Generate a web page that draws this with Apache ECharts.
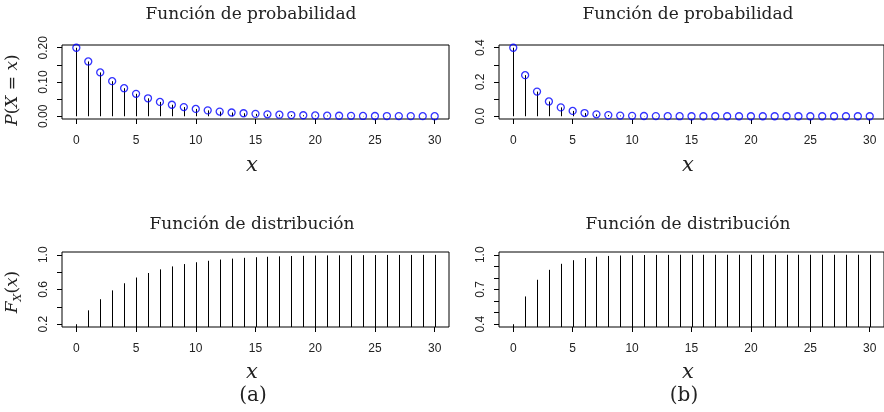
<!DOCTYPE html>
<html>
<head>
<meta charset="utf-8">
<script src="https://cdn.jsdelivr.net/npm/echarts@6/dist/echarts.min.js"></script>
<style>
  html, body { margin: 0; padding: 0; background: #fff; }
  #main { width: 884px; height: 412px; }
</style>
</head>
<body>
<div id="main"></div>
<script>
// valores de x (0..30)
var xVals = [0,1,2,3,4,5,6,7,8,9,10,11,12,13,14,15,16,17,18,19,20,21,22,23,24,25,26,27,28,29,30];

// (a) funcion de probabilidad y distribucion
var probA = [0.2000,0.1600,0.1280,0.1024,0.0819,0.0655,0.0524,0.0419,0.0336,0.0268,
             0.0215,0.0172,0.0137,0.0110,0.0088,0.0070,0.0056,0.0045,0.0036,0.0029,
             0.0023,0.0018,0.0015,0.0012,0.0009,0.0008,0.0006,0.0005,0.0004,0.0003,0.0002];
var distA = [0.200,0.360,0.488,0.590,0.672,0.738,0.790,0.832,0.866,0.893,
             0.914,0.931,0.945,0.956,0.965,0.972,0.977,0.982,0.986,0.988,
             0.991,0.993,0.994,0.995,0.996,0.997,0.998,0.998,0.998,0.999,0.999];

// (b)
var probB = [0.4000,0.2400,0.1440,0.0864,0.0518,0.0311,0.0187,0.0112,0.0067,0.0040,
             0.0024,0.0015,0.0009,0.0005,0.0003,0.0002,0.0001,0.0001,0.0000,0.0000,
             0.0000,0.0000,0.0000,0.0000,0.0000,0.0000,0.0000,0.0000,0.0000,0.0000,0.0000];
var distB = [0.400,0.640,0.784,0.870,0.922,0.953,0.972,0.983,0.990,0.994,
             0.996,0.998,0.999,0.999,1.000,1.000,1.000,1.000,1.000,1.000,
             1.000,1.000,1.000,1.000,1.000,1.000,1.000,1.000,1.000,1.000,1.000];

// ticks
var xTicks = [0,5,10,15,20,25,30];
var yTicksPA = [0,0.05,0.10,0.15,0.20];
var yLabelsPA = [0,0.10,0.20];
var yTicksPB = [0,0.1,0.2,0.3,0.4];
var yLabelsPB = [0,0.2,0.4];
var yTicksFA = [0.2,0.4,0.6,0.8,1.0];
var yLabelsFA = [0.2,0.6,1.0];
var yTicksFB = [0.4,0.5,0.6,0.7,0.8,0.9,1.0];
var yLabelsFB = [0.4,0.7,1.0];

var serif = '"DejaVu Serif", serif';
var sans = '"Liberation Sans", Arial, sans-serif';

function pairs(vals) {
    return xVals.map(function (x, i) { return [x, vals[i]]; });
}

// grids: [left, top, width, height]
var grids = [
    {left: 62,  top: 45,  width: 387, height: 74},
    {left: 499, top: 45,  width: 387, height: 74},
    {left: 62,  top: 252, width: 387, height: 75},
    {left: 499, top: 252, width: 387, height: 75}
];

function makeX(idx) {
    return {
        type: 'value', gridIndex: idx, min: -1.2, max: 31.2, position: 'bottom',
        axisLine: {show: false, onZero: false},
        axisTick: {show: true, length: 5, lineStyle: {color: '#000'}, customValues: xTicks},
        axisLabel: {show: true, customValues: xTicks, margin: 16, fontFamily: sans, fontSize: 12, color: '#222'},
        splitLine: {show: false}
    };
}

function makeY(idx, min, max, ticks, labels, dec) {
    return {
        type: 'value', gridIndex: idx, min: min, max: max, position: 'left',
        axisLine: {show: false, onZero: false},
        axisTick: {show: true, length: 5, lineStyle: {color: '#000'}, customValues: ticks},
        axisLabel: {
            show: true, customValues: labels, rotate: 90, margin: 12,
            fontFamily: sans, fontSize: 12, color: '#222',
            formatter: function (v) { return Number(v).toFixed(dec); }
        },
        splitLine: {show: false}
    };
}

function stems(idx, vals, base) {
    return {
        type: 'custom', xAxisIndex: idx, yAxisIndex: idx, clip: true,
        data: pairs(vals),
        renderItem: function (params, api) {
            var p0 = api.coord([api.value(0), base]);
            var p1 = api.coord([api.value(0), api.value(1)]);
            var xx = Math.round(p0[0]) + 0.5;
            return {
                type: 'line',
                shape: {x1: xx, y1: p0[1], x2: xx, y2: p1[1]},
                style: {stroke: '#000', lineWidth: 1}
            };
        },
        silent: true
    };
}

function points(idx, vals) {
    return {
        type: 'scatter', xAxisIndex: idx, yAxisIndex: idx,
        data: pairs(vals), symbol: 'circle', symbolSize: 7,
        itemStyle: {color: 'rgba(0,0,0,0)', borderColor: '#0000ff', borderWidth: 1.3},
        silent: true, z: 5
    };
}

function txt(x, y, text, font, rot, extra) {
    var el = {
        type: 'text', x: x, y: y, rotation: rot || 0, silent: true,
        style: {text: text, x: 0, y: 0, font: font, fill: '#222', align: 'center', verticalAlign: 'middle'}
    };
    if (extra) el.style.rich = extra;
    return el;
}

var richY = {
    i: {fontFamily: serif, fontStyle: 'italic', fontSize: 17, color: '#222'},
    n: {fontFamily: serif, fontSize: 17, color: '#222'},
    s: {fontFamily: serif, fontStyle: 'italic', fontSize: 11, color: '#222', padding: [11, 0, 0, 0]}
};

var option = {
    animation: false,
    backgroundColor: '#fff',
    grid: grids.map(function (g) {
        return {left: g.left, top: g.top, width: g.width, height: g.height,
                show: true, borderColor: '#000', borderWidth: 1, backgroundColor: 'transparent'};
    }),
    xAxis: [makeX(0), makeX(1), makeX(2), makeX(3)],
    yAxis: [
        makeY(0, -0.008, 0.208, yTicksPA, yLabelsPA, 2),
        makeY(1, -0.016, 0.416, yTicksPB, yLabelsPB, 1),
        makeY(2, 0.168, 1.032, yTicksFA, yLabelsFA, 1),
        makeY(3, 0.376, 1.024, yTicksFB, yLabelsFB, 1)
    ],
    series: [
        stems(0, probA, 0), points(0, probA),
        stems(1, probB, 0), points(1, probB),
        stems(2, distA, 0.168),
        stems(3, distB, 0.376)
    ],
    graphic: [
        txt(251, 15, 'Función de probabilidad', '17px ' + serif),
        txt(688, 15, 'Función de probabilidad', '17px ' + serif),
        txt(252, 225, 'Función de distribución', '17px ' + serif),
        txt(688, 225, 'Función de distribución', '17px ' + serif),
        txt(252, 166, 'x', 'italic 21px ' + serif),
        txt(688, 166, 'x', 'italic 21px ' + serif),
        txt(252, 373, 'x', 'italic 21px ' + serif),
        txt(688, 373, 'x', 'italic 21px ' + serif),
        txt(253, 396, '(a)', '20px ' + serif),
        txt(684, 396, '(b)', '20px ' + serif),
        txt(13, 90, '{i|P}{n|(}{i|X}{n| = }{i|x}{n|)}', '17px ' + serif, Math.PI / 2, richY),
        txt(13, 292, '{i|F}{s|X}{n|(}{i|x}{n|)}', '17px ' + serif, Math.PI / 2, richY)
    ]
};

var chart = echarts.init(document.getElementById('main'));
chart.setOption(option);
</script>
</body>
</html>
